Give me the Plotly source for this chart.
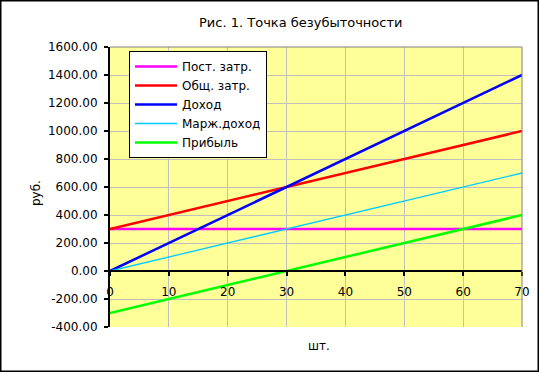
import plotly.graph_objects as go

# Data
units = [0, 10, 20, 30, 40, 50, 60, 70]
fixed_costs = [300, 300, 300, 300, 300, 300, 300, 300]
total_costs = [300, 400, 500, 600, 700, 800, 900, 1000]
revenue = [0, 200, 400, 600, 800, 1000, 1200, 1400]
margin_income = [0, 100, 200, 300, 400, 500, 600, 700]
profit = [-300, -200, -100, 0, 100, 200, 300, 400]

series_names = ["Пост. затр.", "Общ. затр.", "Доход", "Марж.доход", "Прибыль"]
y_tick_vals = [-400, -200, 0, 200, 400, 600, 800, 1000, 1200, 1400, 1600]
y_tick_text = ["-400.00", "-200.00", "0.00", "200.00", "400.00", "600.00",
               "800.00", "1000.00", "1200.00", "1400.00", "1600.00"]
x_tick_vals = [0, 10, 20, 30, 40, 50, 60, 70]
x_tick_text = ["0", "10", "20", "30", "40", "50", "60", "70"]

title_text = "Рис. 1. Точка безубыточности"
x_title = "шт."
y_title = "руб."

W, H = 540, 373
L, R, T, B = 110, 522, 47, 327  # plot area pixel bounds


def px(xp):
    return (xp - L) / (R - L)


def py(yp):
    return (B - yp) / (B - T)


FONT = "DejaVu Sans, Verdana, sans-serif"

fig = go.Figure()
styles = [
    ("#FF00FF", 2.5),
    ("#FF0000", 2.5),
    ("#0000FF", 2.5),
    ("#00CCFF", 1.3),
    ("#00FF00", 2.5),
]
data_series = [fixed_costs, total_costs, revenue, margin_income, profit]
for name, ys, (col, w) in zip(series_names, data_series, styles):
    fig.add_trace(go.Scatter(x=units, y=ys, mode="lines", name=name,
                             line=dict(color=col, width=w)))

fig.update_layout(
    width=W, height=H,
    margin=dict(l=L, r=W - R, t=T, b=H - B, pad=0, autoexpand=False),
    paper_bgcolor="white",
    plot_bgcolor="#FFFF99",
    font=dict(family=FONT, size=12, color="black"),
    showlegend=True,
    legend=dict(x=px(129), y=py(51), xanchor="left", yanchor="top",
                bgcolor="white", bordercolor="black", borderwidth=1,
                font=dict(family=FONT, size=12, color="black"),
                itemwidth=42, tracegroupgap=0),
    xaxis=dict(range=[0, 70], tickmode="array", tickvals=x_tick_vals,
               ticktext=x_tick_text, anchor="free", position=0.2,
               showline=True, linecolor="black", linewidth=2,
               ticks="outside", ticklen=4, tickwidth=2, tickcolor="black",
               showgrid=True, gridcolor="#C0C0C0", gridwidth=1,
               zeroline=False, ticklabelstandoff=6, fixedrange=True),
    yaxis=dict(range=[-400, 1600], tickmode="array", tickvals=y_tick_vals,
               ticktext=y_tick_text,
               showline=True, linecolor="black", linewidth=2,
               ticks="outside", ticklen=4, tickwidth=2, tickcolor="black",
               showgrid=True, gridcolor="#C0C0C0", gridwidth=1,
               zeroline=False, ticklabelstandoff=4, fixedrange=True),
    shapes=[
        dict(type="path", xref="paper", yref="paper",
             path="M 0 1 L 1 1 L 1 0", line=dict(color="#808080", width=1)),
        dict(type="rect", xref="paper", yref="paper",
             x0=px(0.75), x1=px(538.25), y0=py(371.25), y1=py(0.75),
             line=dict(color="black", width=1.5)),
    ],
    annotations=[
        dict(text=title_text, xref="paper", yref="paper", x=px(301), y=py(22),
             xanchor="center", yanchor="middle", showarrow=False,
             font=dict(family=FONT, size=13, color="black")),
        dict(text=y_title, xref="paper", yref="paper", x=px(36), y=py(193),
             xanchor="center", yanchor="middle", showarrow=False, textangle=-90,
             font=dict(family=FONT, size=12, color="black")),
        dict(text=x_title, xref="paper", yref="paper", x=px(319), y=py(346),
             xanchor="center", yanchor="middle", showarrow=False,
             font=dict(family=FONT, size=12, color="black")),
    ],
)

fig.write_html("out.html", config={"displayModeBar": False},
               post_script="document.body.style.margin='0';"
                           "document.body.style.padding='0';")
